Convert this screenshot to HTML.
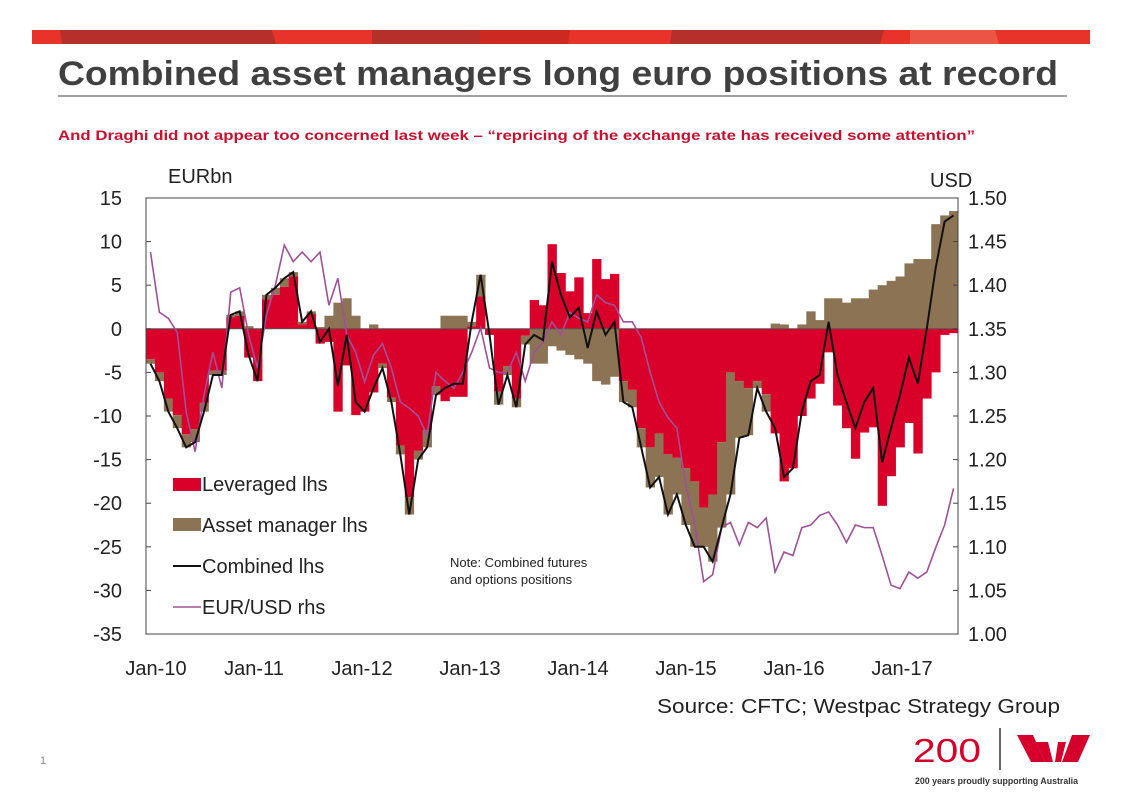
<!DOCTYPE html>
<html><head><meta charset="utf-8"><style>
body{margin:0;background:#fff;}
svg{display:block;font-family:"Liberation Sans",Arial,sans-serif;}
</style></head><body>
<svg width="1122" height="793" viewBox="0 0 1122 793">
<g>
<rect x="32" y="30" width="1058" height="14" fill="#e8332a"/>
<polygon points="60,30 272,30 276,44 62,44" fill="#b5302a"/>
<polygon points="372,30 480,30 480,44 372,44" fill="#b5302a"/>
<polygon points="480,30 570,30 568,44 480,44" fill="#cc2a20"/>
<polygon points="672,30 884,30 880,44 670,44" fill="#b5302a"/>
<polygon points="910,30 995,30 999,44 910,44" fill="#ea5545"/>
</g>
<text x="58" y="85" font-size="34" font-weight="bold" fill="#404040" textLength="1000" lengthAdjust="spacingAndGlyphs">Combined asset managers long euro positions at record</text>
<line x1="58" y1="96" x2="1067" y2="96" stroke="#404040" stroke-width="1"/>
<text x="58" y="140" font-size="14" font-weight="bold" fill="#c8102e" textLength="917" lengthAdjust="spacingAndGlyphs">And Draghi did not appear too concerned last week – “repricing of the exchange rate has received some attention”</text>
<g id="chart"></g>
<text x="40" y="764" font-size="11" fill="#888">1</text>
<g>
<text x="913" y="762" font-size="33" fill="#d5002b" textLength="68" lengthAdjust="spacingAndGlyphs">200</text>
<line x1="1000" y1="728" x2="1000" y2="770" stroke="#333" stroke-width="1.5"/>
<polygon points="1017,735 1033,735 1045,762 1031,762" fill="#d5002b"/>
<polygon points="1036,742 1048,742 1053,762 1045,762" fill="#d5002b"/>
<polygon points="1058,742 1066,742 1061,762 1055,762" fill="#d5002b"/>
<polygon points="1072,735 1090,735 1078,762 1062,762" fill="#d5002b"/>
<text x="915" y="784" font-size="9" font-weight="bold" fill="#333" textLength="163" lengthAdjust="spacingAndGlyphs">200 years proudly supporting Australia</text>
</g>
</svg>
<script>
const leveraged=[-3.5,-5,-8,-9.9,-12.1,-11.5,-8.5,-4.8,-4.8,1.3,1.5,-3.3,-6,3.4,3.9,4.8,6,0.5,1.7,-1.7,-1.5,-9.5,-4.2,-9.9,-9.5,-7.3,-4,-7.9,-13.4,-19.3,-14,-11.6,-6.6,-8.3,-7.8,-7.8,0.3,3.7,-0.7,-7.2,-4.3,-8,-0.8,3.3,2.7,9.7,6.4,4.3,5.9,1.8,8,5.7,6.3,-6,-7,-11.4,-13.6,-12,-14.4,-14.8,-16,-17.5,-20.5,-19,-13,-5,-6,-6.8,-6,-7.5,-12,-17.5,-16,-10,-8,-6.3,-2.7,-8.8,-11.4,-14.9,-11.9,-11.3,-20.3,-16.9,-13.6,-10.8,-14.3,-8,-5,-0.7,-0.5];
const assetManager=[-0.5,-1,-1.5,-1.5,-1.5,-1.5,-1,-0.5,-0.5,0.3,0.5,0.3,0,0.5,0.8,1,0.5,0.3,0.3,0.2,1.5,3,3.5,1.5,0,0.5,-0.5,-0.5,-1,-2,-1,-2,-1,1.5,1.5,1.5,0.5,2.5,0,-1.5,-1,-1,-1,-4,-4,-2,-2.5,-3,-3.5,-4,-6,-6.4,-5.5,-2.4,-2,-2.2,-4.6,-5,-6.9,-4.2,-6.5,-7.5,-4.5,-7.7,-9.8,-14,-6.5,-5.4,-0.8,-2,0.6,0.5,0,0.5,2,1,3.5,3.5,3,3.5,3.5,4.5,5,5.5,6,7.5,8,8,12,13,13.5];
const combined=[-4,-6,-9.5,-11.4,-13.6,-13,-9.5,-5.3,-5.3,1.6,2,-3,-6,3.9,4.7,5.8,6.5,0.8,2,-1.5,0,-6.5,-0.7,-8.4,-9.5,-6.8,-4.5,-8.4,-14.4,-21.3,-15,-13.6,-7.6,-6.8,-6.3,-6.3,0.8,6.2,-0.7,-8.7,-5.3,-9,-1.8,-0.7,-1.3,7.7,3.9,1.3,2.4,-2.2,2,-0.7,0.8,-8.4,-9,-13.6,-18.2,-17,-21.3,-19,-22.5,-25,-25,-26.7,-22.8,-19,-12.5,-12.2,-6.8,-9.5,-11.4,-17,-16,-9.5,-6,-5.3,0.8,-5.3,-8.4,-11.4,-8.4,-6.8,-15.3,-11.4,-7.6,-3.3,-6.3,0,7,12.3,13];
const eurusd=[1.438,1.369,1.362,1.346,1.255,1.209,1.274,1.323,1.282,1.392,1.397,1.343,1.305,1.366,1.400,1.446,1.427,1.438,1.427,1.438,1.377,1.408,1.343,1.323,1.289,1.320,1.333,1.305,1.266,1.259,1.25,1.228,1.300,1.29,1.282,1.3,1.323,1.351,1.305,1.3,1.3,1.323,1.29,1.323,1.335,1.358,1.343,1.369,1.362,1.358,1.389,1.38,1.377,1.358,1.358,1.34,1.3,1.266,1.248,1.236,1.17,1.125,1.06,1.068,1.122,1.128,1.102,1.128,1.122,1.133,1.071,1.094,1.09,1.122,1.125,1.136,1.14,1.125,1.105,1.125,1.122,1.122,1.09,1.056,1.052,1.071,1.064,1.071,1.099,1.125,1.167];
const leftTicks=[15,10,5,0,-5,-10,-15,-20,-25,-30,-35];
const rightTicks=["1.50","1.45","1.40","1.35","1.30","1.25","1.20","1.15","1.10","1.05","1.00"];
const xLabels=["Jan-10","Jan-11","Jan-12","Jan-13","Jan-14","Jan-15","Jan-16","Jan-17"];

const NS="http://www.w3.org/2000/svg";
const g=document.getElementById('chart');
const X0=146,X1=958,Y0=198,Y1=634;
const MPX=(X1-X0)/leveraged.length;
const xOf=i=>X0+MPX*i+MPX/2;
const yL=v=>Y0+(15-v)*(Y1-Y0)/50;
const yR=v=>Y0+(1.5-v)*(Y1-Y0)/0.5;
function mk(t,a,p){const e=document.createElementNS(NS,t);for(const k in a)e.setAttribute(k,a[k]);(p||g).appendChild(e);return e;}

for(let i=0;i<leveraged.length;i++){
  const l=leveraged[i],a=assetManager[i];
  const r=mk('rect',{x:X0+MPX*i,width:MPX+0.4,y:Math.min(yL(0),yL(l)),height:Math.abs(yL(l)-yL(0)),fill:'#d9002a'});
  
  
  const base=(Math.sign(a)===Math.sign(l))?l:0;
  const b=mk('rect',{x:X0+MPX*i,width:MPX+0.4,y:Math.min(yL(base),yL(base+a)),height:Math.abs(yL(base+a)-yL(base)),fill:'#8c7354'});
  
  
}
const zl=mk('line',{x1:X0,x2:X1,y1:yL(0),y2:yL(0),stroke:'#555','stroke-width':1});


const fr=mk('rect',{x:X0,y:Y0,width:X1-X0,height:Y1-Y0,fill:'none',stroke:'#444','stroke-width':1});



const pu=mk('polyline',{points:eurusd.map((v,i)=>xOf(i)+','+yR(v)).join(' '),fill:'none',stroke:'#a0509a','stroke-width':1.6});


const bl=mk('polyline',{points:combined.map((v,i)=>xOf(i)+','+yL(v)).join(' '),fill:'none',stroke:'#111','stroke-width':2});



leftTicks.forEach(v=>{
  mk('line',{x1:X0,x2:X0+5,y1:yL(v),y2:yL(v),stroke:'#444'});
  const t=mk('text',{x:122,y:yL(v)+7,'font-size':20,'text-anchor':'end',fill:'#222'});t.textContent=v;
  
  
});
rightTicks.forEach((s,i)=>{
  const y=Y0+i*(Y1-Y0)/10;
  mk('line',{x1:X1-5,x2:X1,y1:y,y2:y,stroke:'#444'});
  const t=mk('text',{x:968,y:y+7,'font-size':20,fill:'#222'});t.textContent=s;
  
  
});
xLabels.forEach((s,k)=>{
  const cx=k===0?156:X0+108*k;
  const t=mk('text',{x:cx,y:675,'font-size':20,'text-anchor':'middle',fill:'#222'});t.textContent=s;
  
  
});
function lab(x,y,s,name,extra){const t=mk('text',Object.assign({x:x,y:y,'font-size':20,fill:'#222'},extra||{}));t.textContent=s;
  
  return t;}
lab(168,183,'EURbn','left-axis-title');
lab(930,187,'USD','right-axis-title');
lab(657,713,'Source: CFTC; Westpac Strategy Group','source-note',{textLength:403,lengthAdjust:'spacingAndGlyphs'});
lab(450,567,'Note: Combined futures','note-line1',{'font-size':13});
lab(450,584,'and options positions','note-line2',{'font-size':13});
const lg=mk('g',{});


mk('rect',{x:173,y:478,width:28,height:13,fill:'#d9002a'},lg);
mk('rect',{x:173,y:518,width:28,height:13,fill:'#8c7354'},lg);
mk('line',{x1:173,x2:201,y1:566,y2:566,stroke:'#111','stroke-width':2},lg);
mk('line',{x1:173,x2:201,y1:607,y2:607,stroke:'#a0509a','stroke-width':1.6},lg);
[['Leveraged lhs',491],['Asset manager lhs',532],['Combined lhs',573],['EUR/USD rhs',614]].forEach(([s,y])=>{
  const t=mk('text',{x:202,y:y,'font-size':20,fill:'#222'},lg);t.textContent=s;
  
  
});
</script>
</body></html>
